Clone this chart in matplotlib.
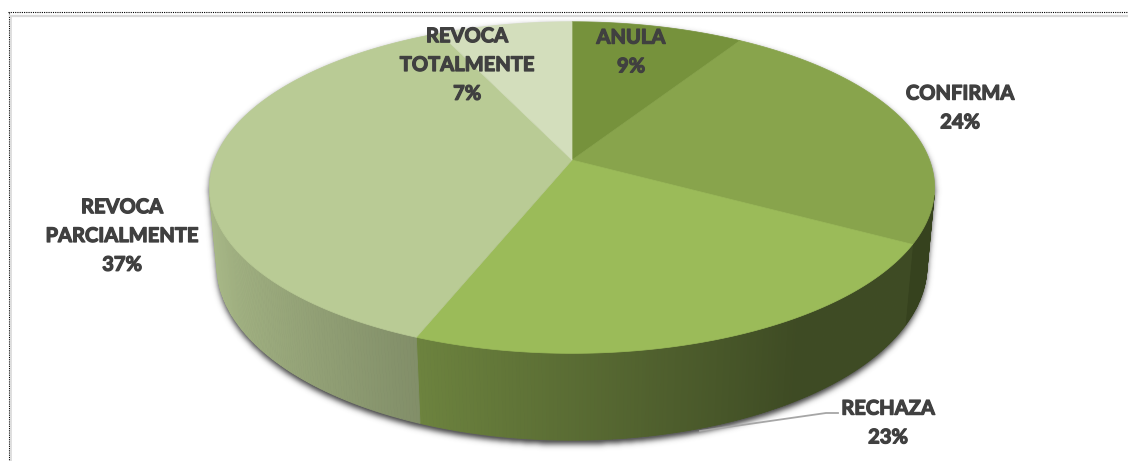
import numpy as np
import matplotlib.pyplot as plt
import matplotlib.patheffects as pe
from matplotlib.patches import Polygon
from matplotlib.path import Path

# data
categories = ['ANULA', 'CONFIRMA', 'RECHAZA', 'REVOCA\nPARCIALMENTE', 'REVOCA\nTOTALMENTE']
values = [9, 24, 23, 37, 7]
top_colors = ['#76923C', '#88A44C', '#9BBB59', '#B9CB95', '#D3DEBC']
label_xy = [(631, 52), (960, 108), (888, 423), (122, 236), (467, 65)]

W, H = 1128, 461
fig = plt.figure(figsize=(W / 100, H / 100), dpi=100)
ax = fig.add_axes([0, 0, 1, 1])
ax.set_xlim(0, W)
ax.set_ylim(H, 0)
ax.axis('off')

# simple perspective camera for the 3D pie (pixel units)
CX, CY = 572, 160
F, DIST = 1920, 5.37
PHI = np.radians(26.8)
THICK = 0.245
c, s = np.cos(PHI), np.sin(PHI)


def project(theta, z=0.0):
    u = np.sin(theta)
    v = np.cos(theta)
    up = v * s + z * c
    d = DIST + v * c - z * s
    return CX + F * u / d, CY - F * up / d


def shade(color, theta):
    rgb = np.array(plt.matplotlib.colors.to_rgb(color))
    b = np.clip(0.58 - 0.33 * np.sin(theta), 0.40, 1.0)
    return tuple(rgb * b)


edges = np.cumsum([0] + values) / sum(values) * 2 * np.pi
t_vis1 = np.arccos(-1 / (DIST * c))
t_vis2 = 2 * np.pi - t_vis1

# soft shadow under the pie
t_back = np.linspace(t_vis2, t_vis1 + 2 * np.pi, 200)
t_front = np.linspace(t_vis1, t_vis2, 200)
sx = np.concatenate([project(t_back)[0], project(t_front, -THICK)[0]])
sy = np.concatenate([project(t_back)[1], project(t_front, -THICK)[1]])
outline = Path(np.column_stack([sx, sy + 4]))
gx, gy = np.meshgrid(np.arange(W) + 0.5, np.arange(H) + 0.5)
mask = outline.contains_points(np.column_stack([gx.ravel(), gy.ravel()])).reshape(H, W).astype(float)
k = np.exp(-0.5 * (np.arange(-10, 11) / 3.0) ** 2)
k /= k.sum()
mask = np.apply_along_axis(lambda r: np.convolve(r, k, mode='same'), 1, mask)
mask = np.apply_along_axis(lambda r: np.convolve(r, k, mode='same'), 0, mask)
shadow = np.zeros((H, W, 4))
shadow[..., :3] = 0.30
shadow[..., 3] = np.clip(mask * 1.1, 0, 0.9)
ax.imshow(shadow, extent=(0, W, H, 0), zorder=1, interpolation='bilinear')

# side wall, drawn as thin strips so the light changes along the rim
for i, col in enumerate(top_colors):
    a0 = max(edges[i], t_vis1)
    a1 = min(edges[i + 1], t_vis2)
    if a1 <= a0:
        continue
    n = max(2, int(np.degrees(a1 - a0) * 2))
    ts = np.linspace(a0, a1, n + 1)
    for ta, tb in zip(ts[:-1], ts[1:]):
        xa, ya = project(ta)
        xb, yb = project(tb)
        xc, yc = project(tb, -THICK)
        xd, yd = project(ta, -THICK)
        fc = shade(col, (ta + tb) / 2)
        ax.add_patch(Polygon([(xa, ya), (xb, yb), (xc, yc), (xd, yd)], closed=True,
                             facecolor=fc, edgecolor=fc, lw=0.6, zorder=2))

# top faces
for i, col in enumerate(top_colors):
    ts = np.linspace(edges[i], edges[i + 1], 120)
    px, py = project(ts)
    pts = [(CX, CY)] + list(zip(px, py))
    ax.add_patch(Polygon(pts, closed=True, facecolor=col, edgecolor=col, lw=0.5, zorder=3))

# labels
for name, v, (lx, ly) in zip(categories, values, label_xy):
    ax.text(lx, ly, f'{name}\n{v}%', ha='center', va='center', multialignment='center',
            fontfamily='Lato', fontweight='bold', fontsize=14.5, color='#404040',
            linespacing=1.55, zorder=5,
            path_effects=[pe.withStroke(linewidth=0.9, foreground='#404040')])

# leader line for RECHAZA
ax.plot([700, 826, 838], [431, 413, 413], color='#A6A6A6', lw=1.3, zorder=4)

# chart frame remains (screenshot crop)
ax.plot([8, W], [12.5, 12.5], color='black', lw=0.8, ls=(0, (1, 1)), zorder=6)
ax.plot([8.5, 8.5], [12, H], color='black', lw=0.8, ls=(0, (1, 1)), zorder=6)
ax.plot([10, W], [16.5, 16.5], color='#D9D9D9', lw=1.6, zorder=6)
ax.plot([10.8, 10.8], [16, H], color='#D9D9D9', lw=1.2, zorder=6)

fig.savefig('out.png', dpi=100)
